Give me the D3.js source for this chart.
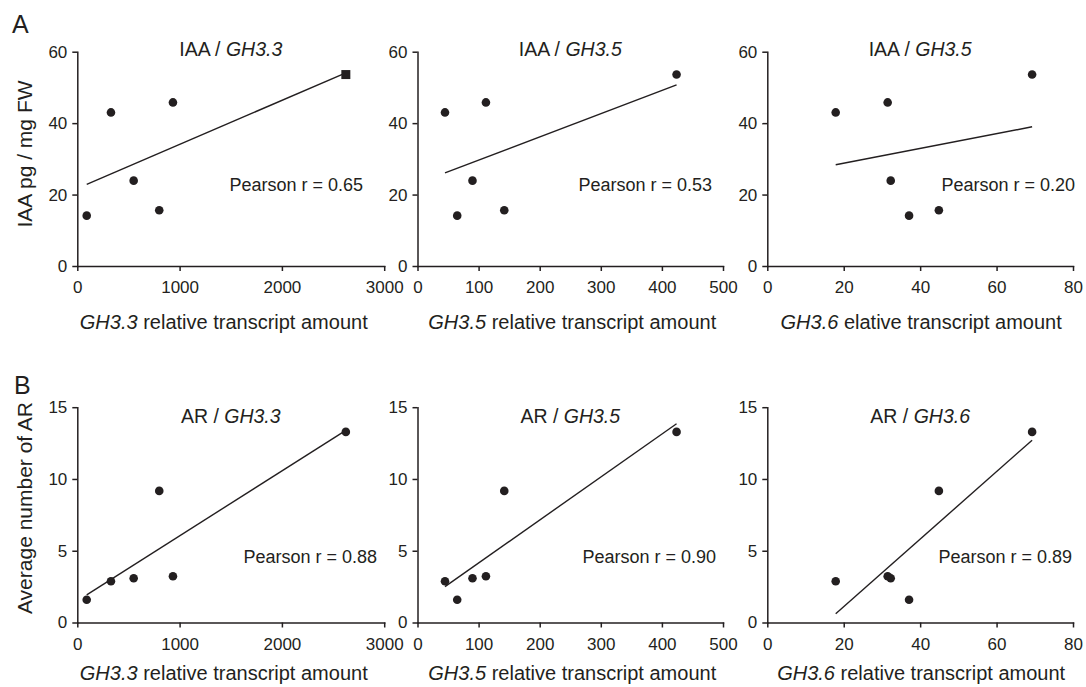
<!DOCTYPE html>
<html>
<head>
<meta charset="utf-8">
<script src="https://cdn.jsdelivr.net/npm/d3@7"></script>
<style>
  body { margin: 0; background: #fff; }
  svg { font-family: "Liberation Sans", Arial, sans-serif; }
  text { fill: #231f20; }
  .axis path, .axis line { stroke: #231f20; stroke-width: 1.5; }
  .axis text { font-size: 17px; fill: #231f20; font-family: "Liberation Sans", Arial, sans-serif; }
</style>
</head>
<body>
<svg id="chart" width="1086" height="687"></svg>
<script>
// six samples, same order in every array
const gh33 = [92, 329, 551, 801, 935, 2625];
const gh35 = [65, 45, 90, 142, 112, 424];
const gh36 = [37.1, 17.9, 32.3, 44.9, 31.5, 69.3];
const iaa = [14.1, 43.0, 23.9, 15.6, 45.8, 53.6];
const ar = [1.58, 2.87, 3.08, 9.17, 3.22, 13.28];

const xMax = [3000, 500, 80];
const xTicks = [[0, 1000, 2000, 3000], [0, 100, 200, 300, 400, 500], [0, 20, 40, 60, 80]];
const xGenes = ["GH3.3", "GH3.5", "GH3.6"];
const iaaTitleGenes = ["GH3.3", "GH3.5", "GH3.5"];   // as printed
const arTitleGenes = ["GH3.3", "GH3.5", "GH3.6"];
const iaaXLabelRest = [" relative transcript amount", " relative transcript amount", " elative transcript amount"];
const arXLabelRest = [" relative transcript amount", " relative transcript amount", " relative transcript amount"];
const iaaPearson = ["0.65", "0.53", "0.20"];
const arPearson = ["0.88", "0.90", "0.89"];
const iaaTicks = [0, 20, 40, 60];
const arTicks = [0, 5, 10, 15];
// marker shape per sample for the IAA / GH3.3 panel (last one printed as a square)
const iaaGh33Shapes = ["circle", "circle", "circle", "circle", "circle", "square"];

const xData = [gh33, gh35, gh36];

// layout
const colX = [[77.3, 384.2], [417.5, 723], [767.3, 1073]];
const xLabelShift = [-7, 2, 1];
const ink = "#231f20";

const rows = [
  {
    y: iaa, yMax: 60, yTicks: iaaTicks, yLabel: "IAA pg / mg FW", prefix: "IAA / ",
    titles: iaaTitleGenes, pearson: iaaPearson, xRest: iaaXLabelRest, letter: "A",
    bottom: 266, top: 51.7, titleY: 56, pearsonY: 190.5, xLabelY: 329, yLabelY: 154, letterY: 33,
    pearsonEnd: [363, 712, 1075]
  },
  {
    y: ar, yMax: 15, yTicks: arTicks, yLabel: "Average number of AR", prefix: "AR / ",
    titles: arTitleGenes, pearson: arPearson, xRest: arXLabelRest, letter: "B",
    bottom: 622.5, top: 407.2, titleY: 423, pearsonY: 563, xLabelY: 680, yLabelY: 508, letterY: 394,
    pearsonEnd: [377, 716, 1072]
  }
];

const svg = d3.select("#chart");

function fit(xs, ys) {
  const mx = d3.mean(xs), my = d3.mean(ys);
  let sxy = 0, sxx = 0;
  xs.forEach(function (x, i) { sxy += (x - mx) * (ys[i] - my); sxx += (x - mx) * (x - mx); });
  const b = sxy / sxx;
  return function (x) { return my + b * (x - mx); };
}

rows.forEach(function (row, r) {
  svg.append("text")
    .attr("x", r === 0 ? 12 : 14).attr("y", row.letterY)
    .style("font-size", "25px")
    .text(row.letter);

  svg.append("text")
    .attr("transform", "translate(32," + row.yLabelY + ") rotate(-90)")
    .attr("text-anchor", "middle")
    .style("font-size", "21px")
    .text(row.yLabel);

  colX.forEach(function (cx, c) {
    const xs = xData[c];
    const x = d3.scaleLinear().domain([0, xMax[c]]).range(cx);
    const y = d3.scaleLinear().domain([0, row.yMax]).range([row.bottom, row.top]);
    const g = svg.append("g");

    g.append("g").attr("class", "axis")
      .attr("transform", "translate(0," + row.bottom + ")")
      .call(d3.axisBottom(x).tickValues(xTicks[c]).tickFormat(d3.format("d"))
        .tickSize(5).tickSizeOuter(0).tickPadding(10));

    g.append("g").attr("class", "axis")
      .attr("transform", "translate(" + cx[0] + ",0)")
      .call(d3.axisLeft(y).tickValues(row.yTicks).tickFormat(d3.format("d"))
        .tickSize(5).tickSizeOuter(0).tickPadding(5));

    g.selectAll(".axis .domain").attr("stroke-linecap", "square");

    // regression line over the data range
    const f = fit(xs, row.y);
    const ext = d3.extent(xs);
    g.append("line")
      .attr("x1", x(ext[0])).attr("y1", y(f(ext[0])))
      .attr("x2", x(ext[1])).attr("y2", y(f(ext[1])))
      .attr("stroke", ink).attr("stroke-width", 1.4);

    const shapes = (r === 0 && c === 0) ? iaaGh33Shapes : null;
    g.selectAll("path.pt")
      .data(xs.map(function (v, i) { return { x: v, y: row.y[i], s: shapes ? shapes[i] : "circle" }; }))
      .enter().append("path")
      .attr("class", "pt")
      .attr("transform", function (d) { return "translate(" + x(d.x) + "," + y(d.y) + ")"; })
      .attr("d", function (d) {
        return d3.symbol().type(d.s === "square" ? d3.symbolSquare : d3.symbolCircle)
          .size(d.s === "square" ? 81 : 58)();
      })
      .attr("fill", ink);

    const mid = (cx[0] + cx[1]) / 2;

    const t = g.append("text")
      .attr("x", mid).attr("y", row.titleY)
      .attr("text-anchor", "middle")
      .style("font-size", "19.5px");
    t.append("tspan").text(row.prefix);
    t.append("tspan").style("font-style", "italic").text(row.titles[c]);

    g.append("text")
      .attr("x", row.pearsonEnd[c]).attr("y", row.pearsonY)
      .attr("text-anchor", "end")
      .style("font-size", "18px")
      .text("Pearson r = " + row.pearson[c]);

    const xl = g.append("text")
      .attr("x", mid + xLabelShift[c]).attr("y", row.xLabelY)
      .attr("text-anchor", "middle")
      .style("font-size", "20px");
    xl.append("tspan").style("font-style", "italic").text(xGenes[c]);
    xl.append("tspan").text(row.xRest[c]);
  });
});
</script>
</body>
</html>
